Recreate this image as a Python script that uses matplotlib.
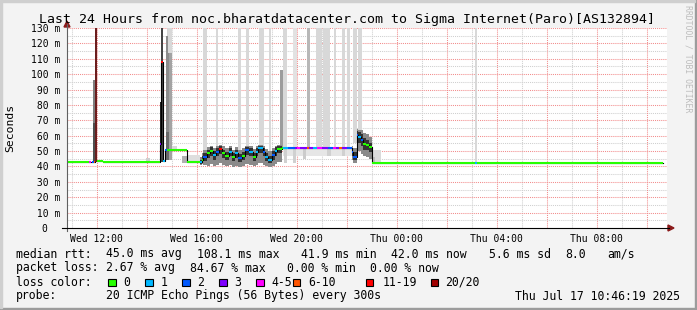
import matplotlib
matplotlib.use("Agg")
import matplotlib.pyplot as plt
from matplotlib.patches import Rectangle, Polygon
from matplotlib.lines import Line2D

nan = float("nan")

# ---------------- data (time in hours since Wed 00:00) ----------------
median_t = [10.81, 11.70, 11.78, 11.82, 11.87, 11.93, 11.99, 12.25, 14.53, 14.58,
            14.66, 14.73, 14.80, 15.60, 16.13, 16.21, 16.26, 16.40, 16.53, 16.64,
            16.77, 16.90, 17.00, 17.13, 17.30, 17.40, 17.53, 17.66, 17.80, 17.93,
            18.10, 18.24, 18.37, 18.46, 18.64, 18.73, 18.86, 19.00, 19.13, 19.22,
            19.40, 19.46, 19.65, 19.93, 20.01, 20.13, 20.40, 20.49, 20.65, 20.80,
            21.00, 21.25, 21.45, 21.57, 21.67, 21.80, 22.00, 22.20, 22.25, 22.40,
            22.45, 22.55, 22.65, 22.75, 22.87, 23.00, 27.11, 27.19]
median_end = 34.65
median_ms = [42.6, 42.6, nan, 42.6, 42.6, nan, 43.4, 42.6, 54.6, 108.1,
             43.7, 50.7, 50.7, 42.6, 42.7, 44.0, 46.0, 48.6, 50.3, 47.5,
             49.6, 51.2, 48.6, 46.8, 49.6, 46.0, 48.6, 45.3, 46.8, 50.7,
             49.6, 46.4, 49.6, 51.8, 49.6, 46.4, 44.2, 47.5, 50.3, 51.2,
             51.8, 51.8, 51.8, 51.8, 51.8, 51.8, 51.8, 51.8, 51.8, 51.8,
             51.8, 51.8, 51.8, 51.8, 51.8, 51.8, 51.8, 49.6, 46.4, 60.5,
             59.0, 57.2, 54.6, 54.0, 52.9, 42.0, 42.0, 42.0]
median_loss = [0, 4, 0, 2, 5, 7, 0, 0, 3, 6,
               1, 2, 0, 0, 1, 0, 2, 0, 0, 1,
               2, 6, 0, 0, 1, 0, 1, 2, 0, 2,
               1, 0, 1, 1, 2, 1, 1, 2, 1, 0,
               0, 1, 2, 3, 4, 3, 5, 3, 1, 4,
               3, 2, 4, 3, 5, 3, 2, 2, 2, 2,
               1, 2, 0, 0, 0, 0, 1, 0]

# full-loss marker (20/20)
total_loss_t0 = [11.94]
total_loss_t1 = [12.01]
total_loss_lo = [42.6]

# dense smoke around the median in the busy periods (per 5-min sample)
band_t0 = [16.13, 16.21, 16.26, 16.40, 16.53, 16.64, 16.77, 16.90, 17.00, 17.13,
           17.30, 17.40, 17.53, 17.66, 17.80, 17.93, 18.10, 18.24, 18.37, 18.46,
           18.64, 18.73, 18.86, 19.00, 19.13, 19.22,
           22.20, 22.25, 22.40, 22.45, 22.55, 22.65, 22.75, 22.87]
band_t1 = [16.21, 16.26, 16.40, 16.53, 16.64, 16.77, 16.90, 17.00, 17.13, 17.30,
           17.40, 17.53, 17.66, 17.80, 17.93, 18.10, 18.24, 18.37, 18.46, 18.64,
           18.73, 18.86, 19.00, 19.13, 19.22, 19.40,
           22.25, 22.40, 22.45, 22.55, 22.65, 22.75, 22.87, 23.00]
band_outer_lo = [41.0, 41.5, 41.0, 40.5, 41.5, 40.0, 41.0, 42.0, 41.0, 40.0,
                 41.0, 39.5, 40.5, 39.5, 40.0, 41.5, 41.0, 40.0, 41.0, 42.5,
                 41.0, 40.0, 39.5, 40.5, 41.5, 43.0,
                 44.0, 42.5, 49.0, 50.0, 48.0, 46.5, 46.0, 45.0]
band_outer_hi = [46.0, 48.5, 51.0, 52.5, 53.5, 52.0, 53.0, 54.0, 53.0, 52.0,
                 53.0, 51.0, 52.5, 50.5, 52.0, 53.5, 53.0, 51.5, 53.0, 54.0,
                 53.0, 51.5, 50.0, 52.0, 53.5, 54.0,
                 53.0, 52.0, 64.5, 64.0, 63.5, 62.0, 61.0, 59.0]
band_inner_lo = [41.8, 42.5, 43.5, 45.5, 47.0, 44.5, 46.5, 48.0, 45.5, 44.0,
                 46.5, 43.5, 45.5, 43.0, 44.0, 47.5, 46.5, 43.5, 46.5, 48.5,
                 46.5, 43.5, 42.0, 44.5, 47.0, 48.5,
                 46.5, 44.0, 55.0, 55.0, 53.0, 51.0, 50.5, 49.5]
band_inner_hi = [44.0, 46.5, 48.5, 51.0, 52.5, 50.0, 52.0, 53.0, 51.0, 49.5,
                 52.0, 48.5, 51.0, 48.0, 49.5, 52.5, 52.0, 49.0, 52.0, 53.0,
                 52.0, 49.0, 47.0, 50.0, 52.5, 53.0,
                 51.5, 49.5, 63.0, 62.5, 61.0, 58.5, 57.5, 55.5]

# isolated smoke (spikes and light outliers)
smoke_t0 = [11.84, 11.84, 14.52, 14.58, 14.77, 14.77, 14.80, 14.89, 14.86, 14.99,
            13.98, 15.40, 15.60,
            16.24, 16.77, 17.64, 17.97, 18.50, 18.90, 19.33, 19.44, 19.85, 20.42,
            20.77, 21.04, 21.49, 21.80, 22.00, 22.26, 22.46, 27.13,
            19.46, 19.50, 19.85, 20.25, 21.20, 21.80,
            23.00, 23.00]
smoke_t1 = [11.94, 11.94, 14.55, 14.66, 14.89, 14.89, 14.93, 14.99, 15.00, 15.20,
            14.13, 15.60, 16.13,
            16.42, 16.86, 17.76, 18.08, 18.69, 18.98, 19.46, 19.60, 20.01, 20.53,
            21.00, 21.33, 21.57, 21.93, 22.13, 22.42, 22.60, 27.22,
            22.20, 19.62, 19.98, 20.35, 21.35, 21.92,
            23.35, 23.15]
smoke_lo = [42.6, 42.6, 42.6, 43.0, 44.0, 44.0, 125.0, 44.0, 114.0, 50.7,
            42.6, 42.0, 42.6,
            50.0, 50.0, 50.0, 50.0, 50.0, 50.0, 51.0, 51.8, 51.8, 51.8,
            51.8, 51.8, 51.8, 51.8, 51.8, 55.0, 55.0, 42.0,
            47.0, 42.5, 42.5, 45.0, 46.5, 46.5,
            42.0, 42.0]
smoke_hi = [96.0, 68.0, 82.0, 135, 125.0, 62.6, 135, 114.0, 135, 53.0,
            45.3, 46.5, 47.5,
            135, 135, 135, 135, 135, 135, 103.0, 135, 135, 135,
            135, 135, 135, 135, 135, 135, 135, 135,
            51.8, 51.8, 51.8, 51.8, 51.8, 51.8,
            50.5, 46.0]
smoke_shade = ["#7e7e7e", "#4e4e4e", "#222222", "#444444", "#8c8c8c", "#6a6a6a", "#d4d4d4", "#a3a3a3", "#d8d8d8", "#d8d8d8",
               "#d0d0d0", "#b0b0b0", "#dedede",
               "#d8d8d8", "#d8d8d8", "#d8d8d8", "#d8d8d8", "#d8d8d8", "#d8d8d8", "#9c9c9c", "#d8d8d8", "#e2e2e2", "#b8b8b8",
               "#d8d8d8", "#d8d8d8", "#d8d8d8", "#d8d8d8", "#d8d8d8", "#d8d8d8", "#d8d8d8", "#d8d8d8",
               "#e6e6e6", "#d0d0d0", "#d0d0d0", "#cccccc", "#d0d0d0", "#d0d0d0",
               "#dadada", "#bdbdbd"]

loss_labels = ["0", "1", "2", "3", "4-5", "6-10", "11-19", "20/20"]
loss_colors = ["#26ff00", "#00b8ff", "#0059ff", "#7e00ff", "#ff00ff", "#ff5500", "#ff0000", "#a10000"]

ytick_vals = [0, 10, 20, 30, 40, 50, 60, 70, 80, 90, 100, 110, 120, 130]
ytick_labels = ["0  ", " 10 m", " 20 m", " 30 m", " 40 m", " 50 m", " 60 m", " 70 m",
                " 80 m", " 90 m", "100 m", "110 m", "120 m", "130 m"]
xtick_vals = [12, 16, 20, 24, 28, 32]
xtick_labels = ["Wed 12:00", "Wed 16:00", "Wed 20:00", "Thu 00:00", "Thu 04:00", "Thu 08:00"]

title = "Last 24 Hours from noc.bharatdatacenter.com to Sigma Internet(Paro)[AS132894]"
rtt_stats = ["45.0 ms avg", "108.1 ms max", "41.9 ms min", "42.0 ms now", "5.6 ms sd", "8.0", "am/s"]
loss_stats = ["2.67 % avg", "84.67 % max", "0.00 % min", "0.00 % now"]
probe_text = "20 ICMP Echo Pings (56 Bytes) every 300s"
stamp_text = "Thu Jul 17 10:46:19 2025"

# ---------------- figure ----------------
W, H = 697, 310
MONO = "DejaVu Sans Mono"
plt.rcParams["font.family"] = MONO

fig = plt.figure(figsize=(W / 100, H / 100), dpi=100, facecolor="#f3f3f3")


def fx(x):
    return x / W


def fy(y):
    return 1 - y / H


ax = fig.add_axes([fx(67), fy(228), 600 / W, 200 / H])
ax.set_facecolor("white")
ax.set_xlim(10.81, 34.81)
ax.set_ylim(0, 130)
for s in ax.spines.values():
    s.set_visible(False)

# grid
dot = (0, (1, 1))
for h in range(11, 35, 2):
    ax.axvline(h, color="#cfcfcf", lw=0.75, ls=dot, zorder=0)
for v in range(5, 130, 10):
    ax.axhline(v, color="#cfcfcf", lw=0.75, ls=dot, zorder=0)
for h in range(12, 35, 2):
    ax.axvline(h, color="#f28c8c", lw=0.75, ls=dot, zorder=0.5)
for v in range(10, 131, 10):
    ax.axhline(v, color="#f28c8c", lw=0.75, ls=dot, zorder=0.5)

# smoke
for t0, t1, lo, hi, c in zip(smoke_t0, smoke_t1, smoke_lo, smoke_hi, smoke_shade):
    ax.bar(t0, hi - lo, width=t1 - t0, bottom=lo, align="edge", color=c, linewidth=0, zorder=1)

band_w = [b - a for a, b in zip(band_t0, band_t1)]
ax.bar(band_t0, [h - l for h, l in zip(band_outer_hi, band_outer_lo)], width=band_w,
       bottom=band_outer_lo, align="edge", color="#8a8a8a", linewidth=0, zorder=1.2)
ax.bar(band_t0, [h - l for h, l in zip(band_inner_hi, band_inner_lo)], width=band_w,
       bottom=band_inner_lo, align="edge", color="#333333", linewidth=0, zorder=1.3)

for t0, t1, lo in zip(total_loss_t0, total_loss_t1, total_loss_lo):
    ax.bar(t0, 135 - lo, width=t1 - t0, bottom=lo, align="edge", color="#6b1e1e", linewidth=0, zorder=2)

# median: black steps + loss-coloured segments
t_edges = median_t + [median_end]
ax.step(t_edges, median_ms + [median_ms[-1]], where="post", color="black", lw=0.8, zorder=3)
for i, v in enumerate(median_ms):
    if v == v:
        ax.hlines(v, t_edges[i], t_edges[i + 1], colors=loss_colors[median_loss[i]], lw=1.5, zorder=4)

# ticks
ax.set_yticks(ytick_vals)
ax.set_yticklabels(ytick_labels, fontsize=7.05, family=MONO)
ax.set_xticks(xtick_vals)
ax.set_xticklabels(xtick_labels, fontsize=7.05, family=MONO)
ax.tick_params(axis="y", length=0, pad=5)
ax.tick_params(axis="x", length=0, pad=4)

# axes lines and arrows
fig.add_artist(Line2D([fx(67), fx(67)], [fy(231), fy(24)], color="#606060", lw=0.8))
fig.add_artist(Line2D([fx(62), fx(669)], [fy(228), fy(228)], color="black", lw=0.8))
fig.add_artist(Polygon([[fx(64), fy(27)], [fx(70), fy(27)], [fx(67), fy(21)]], closed=True,
                       color="#8b1a1a", transform=fig.transFigure))
fig.add_artist(Polygon([[fx(668), fy(225)], [fx(668), fy(231)], [fx(674), fy(228)]], closed=True,
                       color="#8b1a1a", transform=fig.transFigure))

# texts
fig.text(fx(347), fy(19), title, ha="center", va="center", fontsize=9.52, family=MONO)
fig.text(fx(10.5), fy(128), "Seconds", ha="center", va="center", rotation=90, fontsize=8.2, family=MONO)
fig.text(fx(688), fy(5), "RRDTOOL / TOBI OETIKER", ha="center", va="top", rotation=270,
         fontsize=5.9, color="#bdbdbd", family=MONO)

LF = 8.3
CW = 6.95


def col(c):
    return 16 + c * CW


fig.text(fx(16), fy(254), "median rtt:", ha="left", va="center", fontsize=LF, family=MONO)
for c, s in zip([13, 26, 41, 54, 68, 79, 85], rtt_stats):
    fig.text(fx(col(c)), fy(254), s, ha="left", va="center", fontsize=LF, family=MONO)
fig.text(fx(16), fy(268), "packet loss:", ha="left", va="center", fontsize=LF, family=MONO)
for c, s in zip([13, 25, 39, 51], loss_stats):
    fig.text(fx(col(c)), fy(268), s, ha="left", va="center", fontsize=LF, family=MONO)
fig.text(fx(16), fy(282), "loss color:", ha="left", va="center", fontsize=LF, family=MONO)
box_x = [108.3, 145.3, 182.3, 219.3, 256.0, 292.7, 365.7, 430.7]
lab_x = [123.3, 160.7, 197.3, 234.0, 271.3, 308.7, 383.0, 445.3]
for bx, lx, lab, colr in zip(box_x, lab_x, loss_labels, loss_colors):
    fig.add_artist(Rectangle((fx(bx), fy(286)), 7.5 / W, 7.5 / H, facecolor=colr, edgecolor="black",
                             lw=0.8, transform=fig.transFigure))
    fig.text(fx(lx), fy(282), lab, ha="left", va="center", fontsize=LF, family=MONO)
fig.text(fx(16), fy(296), "probe:", ha="left", va="center", fontsize=LF, family=MONO)
fig.text(fx(col(13)), fy(296), probe_text, ha="left", va="center", fontsize=LF, family=MONO)
fig.text(fx(680), fy(296), stamp_text, ha="right", va="center", fontsize=LF, family=MONO)

# 3D border
fig.add_artist(Rectangle((0, 0), 1, 2 / H, color="#9c9c9c", transform=fig.transFigure))
fig.add_artist(Rectangle((1 - 2 / W, 0), 2 / W, 1, color="#9c9c9c", transform=fig.transFigure))
fig.add_artist(Rectangle((0, 1 - 2 / H), 1 - 2 / W, 2 / H, color="#cfcfcf", transform=fig.transFigure))
fig.add_artist(Rectangle((0, 2 / H), 2 / W, 1 - 4 / H, color="#cfcfcf", transform=fig.transFigure))

fig.savefig("out.png", dpi=100, facecolor=fig.get_facecolor())
